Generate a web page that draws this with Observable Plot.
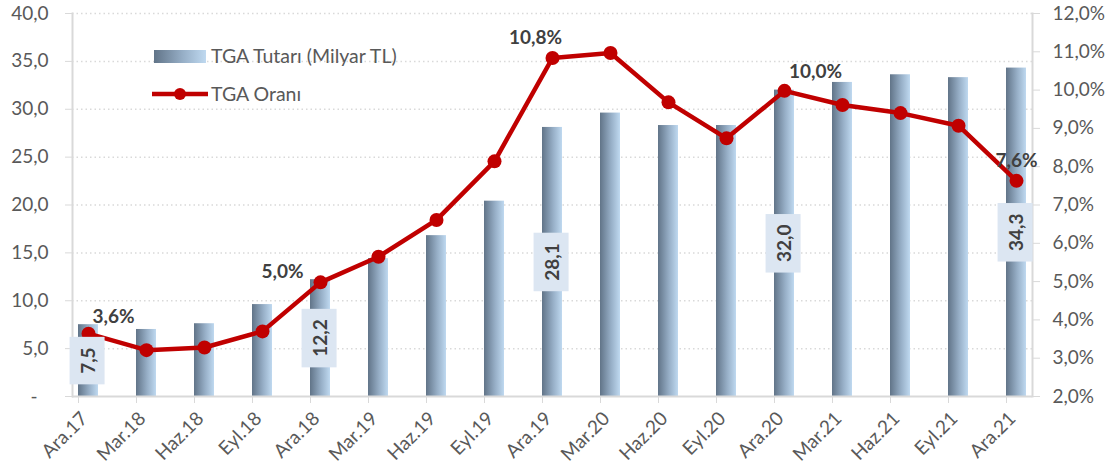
<!DOCTYPE html>
<html><head><meta charset="utf-8">
<script src="https://cdn.jsdelivr.net/npm/d3@7"></script>
<script src="https://cdn.jsdelivr.net/npm/@observablehq/plot@0.6"></script>
<style>
body{margin:0;background:#fff;font-family:Lato,"Open Sans",sans-serif}
#wrap{position:relative;width:1110px;height:475px;overflow:hidden}
.lg{position:absolute;font-size:19.5px;color:#595959;white-space:nowrap;line-height:22px}
</style></head><body><div id="wrap"></div>
<script>
const categories = ["Ara.17","Mar.18","Haz.18","Eyl.18","Ara.18","Mar.19","Haz.19","Eyl.19","Ara.19","Mar.20","Haz.20","Eyl.20","Ara.20","Mar.21","Haz.21","Eyl.21","Ara.21"];
const amounts = [7.5, 7.0, 7.6, 9.6, 12.2, 14.4, 16.8, 20.4, 28.1, 29.6, 28.3, 28.3, 32.0, 32.8, 33.6, 33.3, 34.3];
const rates = [3.64, 3.21, 3.28, 3.70, 4.98, 5.65, 6.61, 8.14, 10.84, 10.97, 9.68, 8.74, 9.98, 9.61, 9.40, 9.07, 7.63];
const leftTicks = [0, 5, 10, 15, 20, 25, 30, 35, 40];
const rightTicks = [2, 3, 4, 5, 6, 7, 8, 9, 10, 11, 12];
const amountLabelIdx = [0, 4, 8, 12, 16];
const rateLabelIdx = [0, 4, 8, 12, 16];
const seriesNames = ["TGA Tutarı (Milyar TL)", "TGA Oranı"];

const data = categories.map((c, i) => ({cat: c, amount: amounts[i], rate: rates[i]}));
const rateToLeft = p => (p - 2) * 4;
const fmt1 = v => v.toFixed(1).replace(".", ",");
const fmtPct = v => fmt1(v) + "%";

const RED = "#c00000";
const GRID = "#d9d9d9";
const LABEL = "#595959";
const DARK = "#404040";

// manual placement offsets for the percentage labels (style, not data)
const pctOffsets = [[25, -17], [-38, -10], [-17, -20], [31, -19], [0, -20]];

const gradientDefs = () => {
  const defs = d3.create("svg:defs");
  const g = defs.append("linearGradient").attr("id", "barGrad").attr("x1", "0").attr("x2", "1").attr("y1", "0").attr("y2", "0");
  g.append("stop").attr("offset", "0%").attr("stop-color", "#617488");
  g.append("stop").attr("offset", "55%").attr("stop-color", "#96aec6");
  g.append("stop").attr("offset", "100%").attr("stop-color", "#bfd9f0");
  return defs.node();
};

const chart = Plot.plot({
  width: 1110,
  height: 475,
  marginTop: 13,
  marginBottom: 79,
  marginLeft: 72,
  marginRight: 78,
  style: {fontFamily: "Lato, 'Open Sans', sans-serif", fontSize: "19px", background: "#fff"},
  x: {type: "band", domain: categories, paddingInner: 0.66, paddingOuter: 0, align: 0.5},
  y: {domain: [0, 40]},
  marks: [
    gradientDefs,
    Plot.ruleY(leftTicks.filter(d => d > 0), {stroke: GRID, strokeWidth: 1.5, strokeDasharray: "1.5,3"}),
    Plot.barY(data, {x: "cat", y: "amount", fill: "url(#barGrad)"}),
    Plot.ruleY([0], {stroke: GRID, strokeWidth: 2}),
    Plot.frame({anchor: "left", stroke: GRID, strokeWidth: 2}),
    Plot.frame({anchor: "right", stroke: GRID, strokeWidth: 2}),
    Plot.axisY({anchor: "left", ticks: leftTicks, tickSize: 7, tickPadding: 17, stroke: GRID, fill: LABEL, fontSize: 19,
      tickFormat: d => d === 0 ? "-\u2007" : fmt1(d), label: null}),
    Plot.axisY({anchor: "right", ticks: rightTicks.map(rateToLeft), tickSize: 7, tickPadding: 13, stroke: GRID, fill: LABEL, fontSize: 19,
      tickFormat: d => fmtPct(d / 4 + 2), label: null}),
    Plot.axisX({ticks: categories, tickSize: 7, tickFormat: () => "", dx: -10, stroke: GRID, label: null}),
    Plot.axisX({ticks: categories, tickSize: 0, tickPadding: 19, dx: -4, tickRotate: -45, fill: LABEL, fontSize: 19, label: null}),
    Plot.line(data, {x: "cat", y: d => rateToLeft(d.rate), stroke: RED, strokeWidth: 4.5}),
    Plot.dot(data, {x: "cat", y: d => rateToLeft(d.rate), r: 7, fill: RED}),
    Plot.text(amountLabelIdx.map(i => data[i]), {x: "cat", y: d => d.amount / 2, text: d => fmt1(d.amount), rotate: -90,
      fontSize: 19, fontWeight: "bold", fill: DARK, ariaLabel: "barlab"}),
    ...rateLabelIdx.map((i, k) => Plot.text([data[i]], {x: "cat", y: d => rateToLeft(d.rate), text: d => fmtPct(d.rate),
      dx: pctOffsets[k][0], dy: pctOffsets[k][1], fontSize: 19, fontWeight: "bold", fill: DARK}))
  ]
});

const wrap = document.getElementById("wrap");
wrap.appendChild(chart);

// light-blue boxes behind the bar value labels
const labelSet = new Set(amountLabelIdx.map(i => fmt1(amounts[i])));
const svgBox = chart.getBoundingClientRect();
Array.from(chart.querySelectorAll("text"))
  .filter(t => labelSet.has(t.textContent) && (t.getAttribute("transform") || "").includes("rotate(-90"))
  .forEach(t => {
    const b = t.getBoundingClientRect();
    const padAlong = 10.5, padAcross = 6;
    const r = document.createElementNS("http://www.w3.org/2000/svg", "rect");
    r.setAttribute("x", b.left - svgBox.left - padAcross);
    r.setAttribute("y", b.top - svgBox.top - padAlong);
    r.setAttribute("width", b.width + 2 * padAcross);
    r.setAttribute("height", b.height + 2 * padAlong);
    r.setAttribute("fill", "#dce6f2");
    let g = t.parentNode;
    while (g.parentNode !== chart) g = g.parentNode;
    chart.insertBefore(r, g);
  });

// legend (inside the plot area, upper left)
const lg = document.createElement("div");
lg.innerHTML = `
  <div style="position:absolute;left:154px;top:50px;width:52px;height:13px;background:linear-gradient(to right,#617488,#96aec6 55%,#bfd9f0)"></div>
  <div class="lg" style="left:211px;top:45px">${seriesNames[0]}</div>
  <svg style="position:absolute;left:148px;top:84px" width="64" height="20">
    <line x1="4" x2="60" y1="10" y2="10" stroke="${RED}" stroke-width="4.5"/>
    <circle cx="32" cy="10" r="6" fill="${RED}"/>
  </svg>
  <div class="lg" style="left:211px;top:83px">${seriesNames[1]}</div>`;
wrap.appendChild(lg);
</script></body></html>
